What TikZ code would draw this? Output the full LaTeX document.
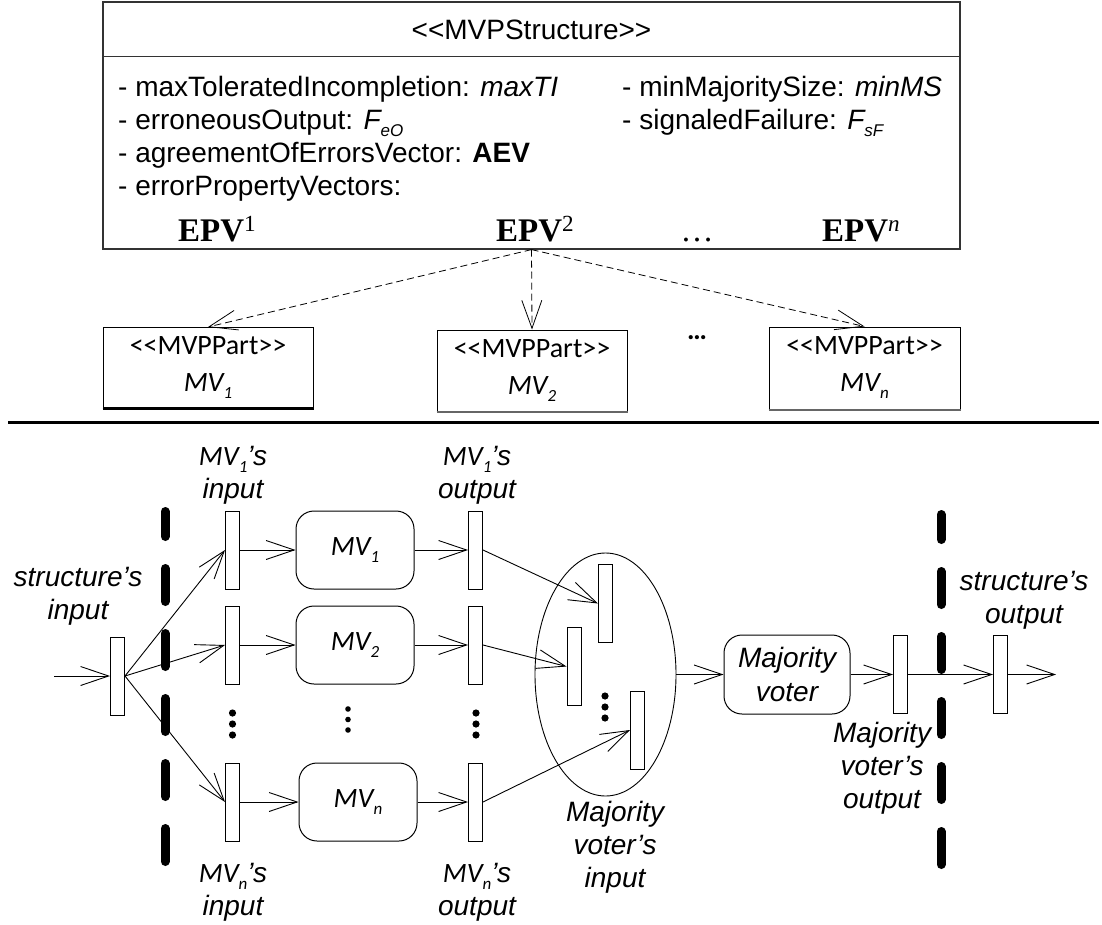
\documentclass[tikz,border=0pt]{standalone}
\usepackage{fontspec}
\setmainfont{Liberation Sans}
\newfontfamily\calibri{Carlito}
\newfontfamily\tnr{Liberation Serif}
\usetikzlibrary{arrows.meta,shapes.geometric}
\newcommand\mysub[1]{\raisebox{-0.25em}{\fontsize{17}{17}\selectfont #1}}
\newcommand\myfs[1]{\fontsize{#1}{#1}\selectfont}
\begin{document}
\begin{tikzpicture}[x=1pt,y=-1pt,
  bar/.style={draw, line width=1pt, minimum width=14pt, minimum height=78pt, inner sep=0pt},
  mvbox/.style={draw, line width=1pt, rounded corners=18pt, minimum width=118pt, minimum height=78pt, inner sep=0pt, font=\calibri\itshape\myfs{28}},
  partbox/.style={draw, line width=1pt, minimum height=80pt, inner sep=0pt, align=center, font=\calibri\fontsize{28}{37}\selectfont},
  arr/.style={-{Straight Barb[length=28pt,width=19pt]}, line width=0.9pt},
  darr/.style={-{Straight Barb[length=28pt,width=20pt]}, line width=0.8pt, dash pattern=on 7pt off 4pt},
  lbl/.style={inner sep=0pt, align=center, font=\itshape\fontsize{28}{33}\selectfont},
  attr/.style={inner sep=0pt, anchor=base west, font=\myfs{28}},
  epv/.style={inner sep=0pt, anchor=base west, font=\tnr\bfseries\myfs{33}},
  bigdash/.style={line width=9pt, line cap=round},
  bdot/.style={fill=black}
]
\useasboundingbox[fill=white] (0,0) rectangle (1102,925);

% ---------- top class box ----------
\node[draw, line width=1.2pt, draw=black!80, minimum width=857pt, minimum height=247pt, inner sep=0pt] (top) at (531.5,125.5) {};
\draw[line width=1pt, black!80] (103,57) -- (960,57);
\node[inner sep=0pt, font=\myfs{28}] (hdr) at (531.5,30) {<{}<MVPStructure>{}>};
\node[attr] (t1) at (118,97) {- maxToleratedIncompletion: \textit{maxTI}};
\node[attr] (t2) at (118,130) {- erroneousOutput: \textit{F\mysub{eO}}};
\node[attr] (t3) at (118,163) {- agreementOfErrorsVector: \textbf{AEV}};
\node[attr] (t4) at (118,196) {- errorPropertyVectors:};
\node[attr] (t5) at (622,97) {- minMajoritySize: \textit{minMS}};
\node[attr] (t6) at (622,130) {- signaledFailure: \textit{F\mysub{sF}}};
\node[epv] (e1) at (178,241) {EPV\textsuperscript{\mdseries 1}};
\node[epv] (e2) at (496,241) {EPV\textsuperscript{\mdseries 2}};
\node[inner sep=0pt, anchor=base, font=\tnr\myfs{33}] (edots) at (697,241) {…};
\node[epv] (en) at (822,241) {EPV\textsuperscript{\mdseries\itshape n}};

% ---------- parts ----------
\node[partbox, minimum width=210pt] (p1) at (208,367.5) {<{}<MVPPart>{}>\\\textit{MV\mysub{1}}};
\node[partbox, minimum width=190pt, minimum height=81pt] (p2) at (532,370.5) {<{}<MVPPart>{}>\\\textit{MV\mysub{2}}};
\node[partbox, minimum width=191pt, minimum height=82pt] (p3) at (864.5,368) {<{}<MVPPart>{}>\\\textit{MV\mysub{n}}};
\draw[line width=2pt] ([yshift=-0.5pt]p1.south west) -- ([yshift=-0.5pt]p1.south east);
\draw[line width=2pt, black!60] ([yshift=-0.5pt]p2.south west) -- ([yshift=-0.5pt]p2.south east);
\draw[line width=2pt, black!60] ([yshift=-0.5pt]p3.south west) -- ([yshift=-0.5pt]p3.south east);
\node[inner sep=0pt, font=\calibri\bfseries\myfs{28}] (pdots) at (697,338) {…};
\draw[darr] (top.south) -- (p1.north);
\draw[darr] (top.south) -- (p2.north);
\draw[darr] (top.south) -- (p3.north);

% separator
\draw[line width=3pt] (8,422) -- (1099,422);

% ---------- bottom structure ----------
\draw[bigdash, dash pattern=on 25pt off 32pt on 33pt off 32pt on 33pt off 32pt on 33pt off 32pt on 33pt off 32pt on 33pt off 40pt] (165,511.5) -- (165,861.5);
\draw[bigdash, dash pattern=on 25pt off 32pt on 33pt off 32pt on 33pt off 32pt on 33pt off 32pt on 33pt off 32pt on 33pt off 40pt] (941,514.5) -- (941,864.5);

\node[bar] (sin) at (117.5,676) {};
\node[bar] (i1) at (232.5,550) {};
\node[bar] (i2) at (232.5,645) {};
\node[bar] (in) at (232.5,802) {};
\node[mvbox] (m1) at (355,550) {MV\mysub{1}};
\node[mvbox] (m2) at (355,645) {MV\mysub{2}};
\node[mvbox] (mn) at (358,802) {MV\mysub{n}};
\node[bar] (o1) at (475.5,550) {};
\node[bar] (o2) at (475.5,645) {};
\node[bar] (on) at (475.5,802) {};
\node[ellipse, draw, line width=0.9pt, minimum width=141pt, minimum height=243pt, inner sep=0pt] (ell) at (605.5,674.5) {};
\node[bar] (va) at (605.5,603.5) {};
\node[bar] (vb) at (574,666.5) {};
\node[bar] (vc) at (637.5,730) {};
\node[draw, line width=1pt, rounded corners=18pt, minimum width=126pt, minimum height=79pt, inner sep=0pt, align=center, font=\itshape\fontsize{28}{34}\selectfont] (mv) at (787,674.5) {Majority\\voter};
\node[bar] (vd) at (900.5,674.5) {};
\node[bar] (ve) at (1000.5,674.5) {};

\coordinate (sstart) at (54,676);
\coordinate (send) at (1056,674.5);

\draw[arr] (sstart) -- (sin.west);
\draw[arr] (sin.east) -- (i1.west);
\draw[arr] (sin.east) -- (i2.west);
\draw[arr] (sin.east) -- (in.west);
\draw[arr] (i1.east) -- (m1.west);
\draw[arr] (i2.east) -- (m2.west);
\draw[arr] (in.east) -- (mn.west);
\draw[arr] (m1.east) -- (o1.west);
\draw[arr] (m2.east) -- (o2.west);
\draw[arr] (mn.east) -- (on.west);
\draw[arr] (o1.east) -- (va.west);
\draw[arr] (o2.east) -- (vb.west);
\draw[arr] (on.east) -- (vc.west);
\draw[arr] (ell.east) -- (mv.west);
\draw[arr] (mv.east) -- (vd.west);
\draw[arr] (vd.east) -- (ve.west);
\draw[arr] (ve.east) -- (send);

% vertical dots
\foreach \y in {713,724,735} {\fill[bdot] (232.5,\y) circle (3.6pt); \fill[bdot] (476,\y) circle (3.6pt);}
\foreach \y in {709,719.5,730} {\fill[bdot] (348,\y) circle (2.8pt);}
\foreach \y in {696,707,718} {\fill[bdot] (605,\y) circle (3.6pt);}

% labels
\node[lbl] (l1) at (233,475) {{\calibri MV\mysub{1}}’s\\input};
\node[lbl] (l2) at (477,475) {{\calibri MV\mysub{1}}’s\\output};
\node[lbl] (l3) at (233,892) {{\calibri MV\mysub{n}}’s\\input};
\node[lbl] (l4) at (477,892) {{\calibri MV\mysub{n}}’s\\output};
\node[lbl] (l5) at (78,596) {structure’s\\input};
\node[lbl] (l6) at (1024,600) {structure’s\\output};
\node[lbl] (l7) at (615,847) {Majority\\voter’s\\input};
\node[lbl] (l8) at (882,768) {Majority\\voter’s\\output};
\end{tikzpicture}
\end{document}
